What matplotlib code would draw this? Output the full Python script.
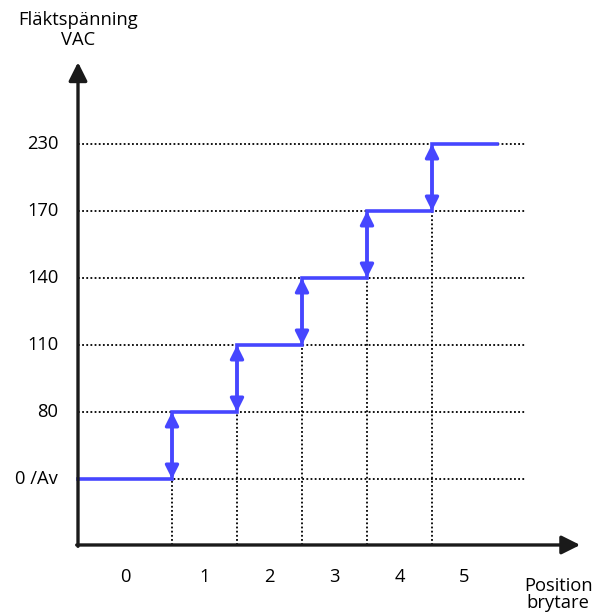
import matplotlib.pyplot as plt

# voltage levels (shown evenly spaced) and switch positions
levels = ['0 /Av', '80', '110', '140', '170', '230']
voltage = [0, 80, 110, 140, 170, 230]
positions = ['0', '1', '2', '3', '4', '5']

plt.rcParams['font.family'] = ['Open Sans', 'DejaVu Sans']

fig = plt.figure(figsize=(5.98, 6.15), dpi=100)
ax = fig.add_axes([0, 0, 1, 1])
ax.set_xlim(-2.146, 7.054)
ax.set_ylim(-2.030, 7.149)
ax.axis('off')

x_axis = -0.946
y_axis = -0.985
blue = '#4646ff'
fs = 13.2

# dotted grid
for i, lab in enumerate(levels):
    ax.plot([x_axis, 5.93], [i, i], color='black', lw=1.3, ls=(0, (1, 1.3)), zorder=1)
    ax.text(-1.25, i, lab, ha='right', va='center', fontsize=fs)
for k in range(len(positions) - 1):
    ax.plot([k + 0.5, k + 0.5], [y_axis, k], color='black', lw=1.3, ls=(0, (1, 1.3)), zorder=1)

# step line
xs = [x_axis]
ys = [0]
for k in range(len(positions)):
    xr = k + 0.5 if k < len(positions) - 1 else 5.5
    xs += [xs[-1], xr] if k > 0 else [xr]
    ys += [k, k] if k > 0 else [0]
ax.plot(xs, ys, color=blue, lw=2.6, solid_joinstyle='miter', zorder=3)

# double arrows at each switch step
for k in range(len(positions) - 1):
    ax.annotate('', xy=(k + 0.5, k + 1), xytext=(k + 0.5, k),
                arrowprops=dict(arrowstyle='<|-|>', color=blue, lw=2.4,
                                mutation_scale=20, shrinkA=0, shrinkB=0), zorder=4)

# x labels centred in each segment
centers = [(x_axis + 0.5) / 2] + [k + 1 for k in range(len(positions) - 1)]
for c, lab in zip(centers, positions):
    ax.text(c, -1.47, lab, ha='center', va='center', fontsize=fs)

# axes with arrows
ax.annotate('', xy=(6.78, y_axis), xytext=(x_axis - 0.02, y_axis),
            arrowprops=dict(arrowstyle='-|>', color='#1a1a1a', lw=2.4,
                            mutation_scale=28, shrinkA=0, shrinkB=0))
ax.annotate('', xy=(x_axis, 6.22), xytext=(x_axis, y_axis - 0.02),
            arrowprops=dict(arrowstyle='-|>', color='#1a1a1a', lw=2.4,
                            mutation_scale=28, shrinkA=0, shrinkB=0))

ax.text(x_axis, 6.70, 'Fläktspänning\nVAC', ha='center', va='center',
        fontsize=fs, linespacing=1.1)
ax.text(6.44, -1.72, 'Position\nbrytare', ha='center', va='center',
        fontsize=fs, linespacing=0.95)

fig.savefig('out.png', dpi=100)
